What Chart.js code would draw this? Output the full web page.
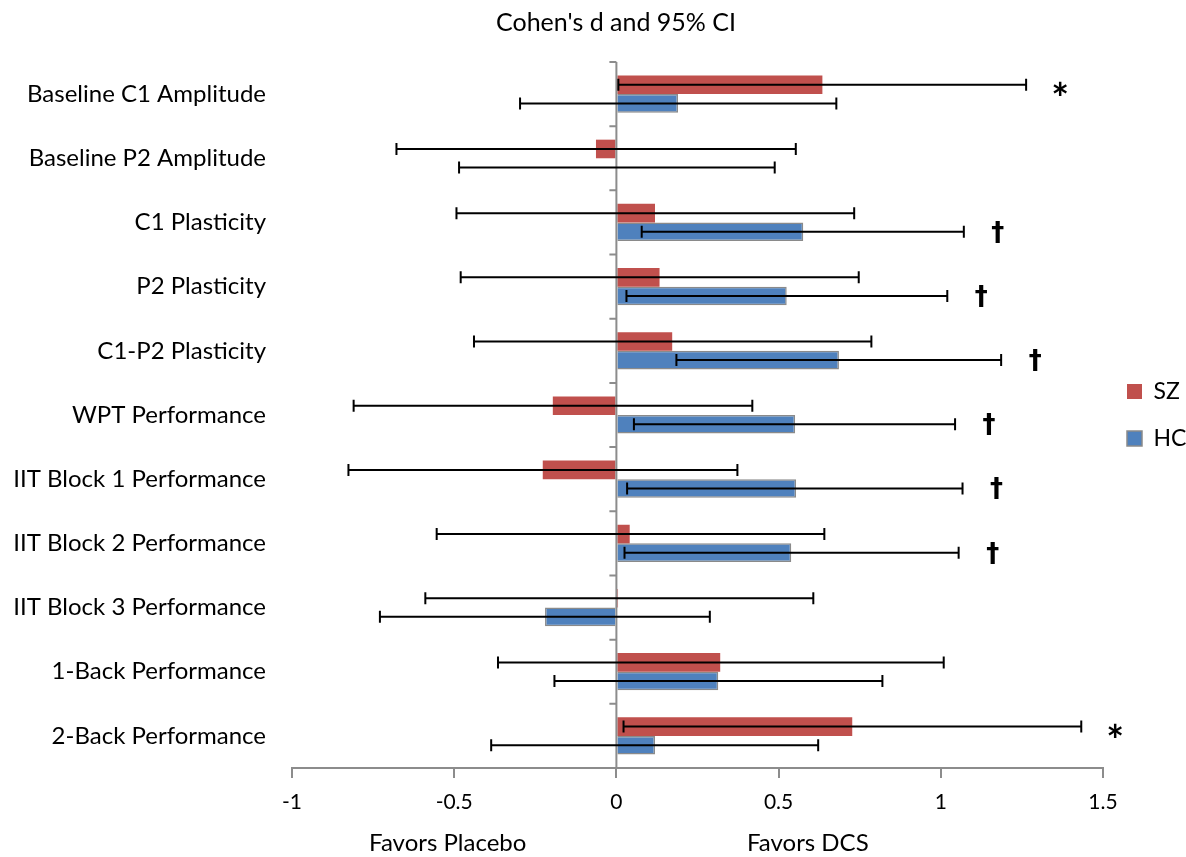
<!DOCTYPE html>
<html>
<head>
<meta charset="utf-8">
<script src="https://cdn.jsdelivr.net/npm/chart.js@4"></script>
<style>
  html, body { margin: 0; padding: 0; background: #fff; }
  #wrap { width: 1186px; height: 857px; }
</style>
</head>
<body>
<div id="wrap"><canvas id="forest"></canvas></div>
<script>
// Outcome measures, top to bottom
const categories = [
    'Baseline C1 Amplitude', 'Baseline P2 Amplitude', 'C1 Plasticity', 'P2 Plasticity',
    'C1-P2 Plasticity', 'WPT Performance', 'IIT Block 1 Performance', 'IIT Block 2 Performance',
    'IIT Block 3 Performance', '1-Back Performance', '2-Back Performance'
];

// Cohen's d with 95% CI, schizophrenia group
const szD  = [0.635, -0.063, 0.119, 0.133, 0.172, -0.196, -0.227, 0.041, 0.005, 0.320, 0.727];
const szLo = [0.006, -0.678, -0.493, -0.480, -0.439, -0.810, -0.826, -0.554, -0.589, -0.365, 0.022];
const szHi = [1.263, 0.553, 0.733, 0.747, 0.786, 0.419, 0.373, 0.641, 0.607, 1.009, 1.433];

// Cohen's d with 95% CI, healthy controls
const hcD  = [0.190, 0.003, 0.576, 0.525, 0.686, 0.551, 0.554, 0.539, -0.220, 0.314, 0.119];
const hcLo = [-0.297, -0.485, 0.078, 0.031, 0.185, 0.054, 0.033, 0.025, -0.729, -0.191, -0.386];
const hcHi = [0.678, 0.488, 1.071, 1.020, 1.186, 1.044, 1.067, 1.055, 0.288, 0.820, 0.622];

// significance markers next to each CI
const szMarks = ['*', '', '', '', '', '', '', '', '', '', '*'];
const hcMarks = ['', '', '\u2020', '\u2020', '\u2020', '\u2020', '\u2020', '\u2020', '', '', ''];

const xTicks = [-1, -0.5, 0, 0.5, 1, 1.5];
const xTickLabels = ['-1', '-0.5', '0', '0.5', '1', '1.5'];
const sideLabels = [[-0.52, 'Favors Placebo'], [0.59, 'Favors DCS']];

const FONT = 'Lato, "Open Sans", sans-serif';

// zero axis, error bars, markers and the two "favors" captions
const errorBars = {
    id: 'errorBars',
    afterDatasetsDraw(chart) {
        const { ctx, chartArea, scales: { x, y } } = chart;
        const x0 = x.getPixelForValue(0);
        const half = (y.getPixelForValue(1) - y.getPixelForValue(0)) / 2;

        ctx.save();
        ctx.strokeStyle = '#8c8c8c';
        ctx.lineWidth = 2;
        ctx.beginPath();
        ctx.moveTo(x0, chartArea.top);
        ctx.lineTo(x0, chartArea.bottom);
        for (let i = 0; i < categories.length; i++) {
            const yb = y.getPixelForValue(i) - half;
            ctx.moveTo(x0 - 7, yb);
            ctx.lineTo(x0, yb);
        }
        ctx.stroke();

        const groups = [[0, szLo, szHi, szMarks], [1, hcLo, hcHi, hcMarks]];
        groups.forEach(([di, lo, hi, marks]) => {
            const meta = chart.getDatasetMeta(di);
            meta.data.forEach((bar, i) => {
                const yc = bar.y;
                const x1 = x.getPixelForValue(lo[i]);
                const x2 = x.getPixelForValue(hi[i]);
                ctx.strokeStyle = '#000';
                ctx.lineWidth = 2;
                ctx.beginPath();
                ctx.moveTo(x1, yc); ctx.lineTo(x2, yc);
                ctx.moveTo(x1, yc - 6); ctx.lineTo(x1, yc + 6);
                ctx.moveTo(x2, yc - 6); ctx.lineTo(x2, yc + 6);
                ctx.stroke();
                if (marks[i]) {
                    ctx.fillStyle = '#000';
                    ctx.textAlign = 'center';
                    ctx.textBaseline = 'alphabetic';
                    if (marks[i] === '*') {
                        ctx.font = 'bold 42px ' + FONT;
                        ctx.fillText(marks[i], x2 + 34, yc + 29);
                    } else {
                        ctx.font = 'bold 26px "DejaVu Sans"';
                        ctx.fillText(marks[i], x2 + 34, yc + 9);
                    }
                }
            });
        });

        ctx.fillStyle = '#000';
        ctx.font = '24px ' + FONT;
        ctx.textAlign = 'center';
        ctx.textBaseline = 'middle';
        sideLabels.forEach(([v, t]) => {
            ctx.fillText(t, x.getPixelForValue(v), chartArea.bottom + 75);
        });
        ctx.restore();
    }
};

const config = {
    type: 'bar',
    data: {
        labels: categories,
        datasets: [{
            label: 'SZ',
            data: szD,
            backgroundColor: '#C0504D',
            borderWidth: 0
        }, {
            label: 'HC',
            data: hcD,
            backgroundColor: '#4F81BD',
            borderColor: '#8a8a8a',
            borderWidth: 1.5
        }]
    },
    options: {
        indexAxis: 'y',
        responsive: true,
        maintainAspectRatio: false,
        animation: false,
        categoryPercentage: 0.58,
        barPercentage: 1.0,
        // negative right padding shifts the full-width title to the right
        layout: { padding: { top: 0, left: 0, right: -46 } },
        scales: {
            x: {
                min: -1,
                max: 1.5,
                afterBuildTicks: scale => { scale.ticks = xTicks.map(v => ({ value: v })); },
                afterFit: scale => {
                    scale.height = 89;
                    scale.paddingRight = 83; // room for legend and markers
                },
                grid: { drawOnChartArea: false, drawTicks: true, tickLength: 10, color: '#8c8c8c', lineWidth: 2 },
                border: { color: '#8c8c8c', width: 2 },
                ticks: {
                    color: '#000',
                    font: { family: FONT, size: 21 },
                    padding: 12,
                    callback: (v, i) => xTickLabels[i]
                }
            },
            y: {
                afterFit: scale => { scale.width = 292; },
                grid: { display: false, drawTicks: false },
                border: { display: false },
                ticks: { color: '#000', font: { family: FONT, size: 24 }, padding: 26 }
            }
        },
        plugins: {
            title: {
                display: true,
                text: "Cohen's d and 95% CI",
                color: '#000',
                font: { family: FONT, size: 25, weight: 'normal' },
                padding: { top: 8, bottom: 24 }
            },
            legend: {
                position: 'right',
                fullSize: false,
                labels: {
                    color: '#000',
                    font: { family: FONT, size: 23 },
                    boxWidth: 15,
                    boxHeight: 15,
                    padding: 24
                }
            },
            tooltip: { enabled: false }
        }
    },
    plugins: [errorBars]
};

const ctx = document.getElementById('forest').getContext('2d');
const myChart = new Chart(ctx, config);
</script>
</body>
</html>
